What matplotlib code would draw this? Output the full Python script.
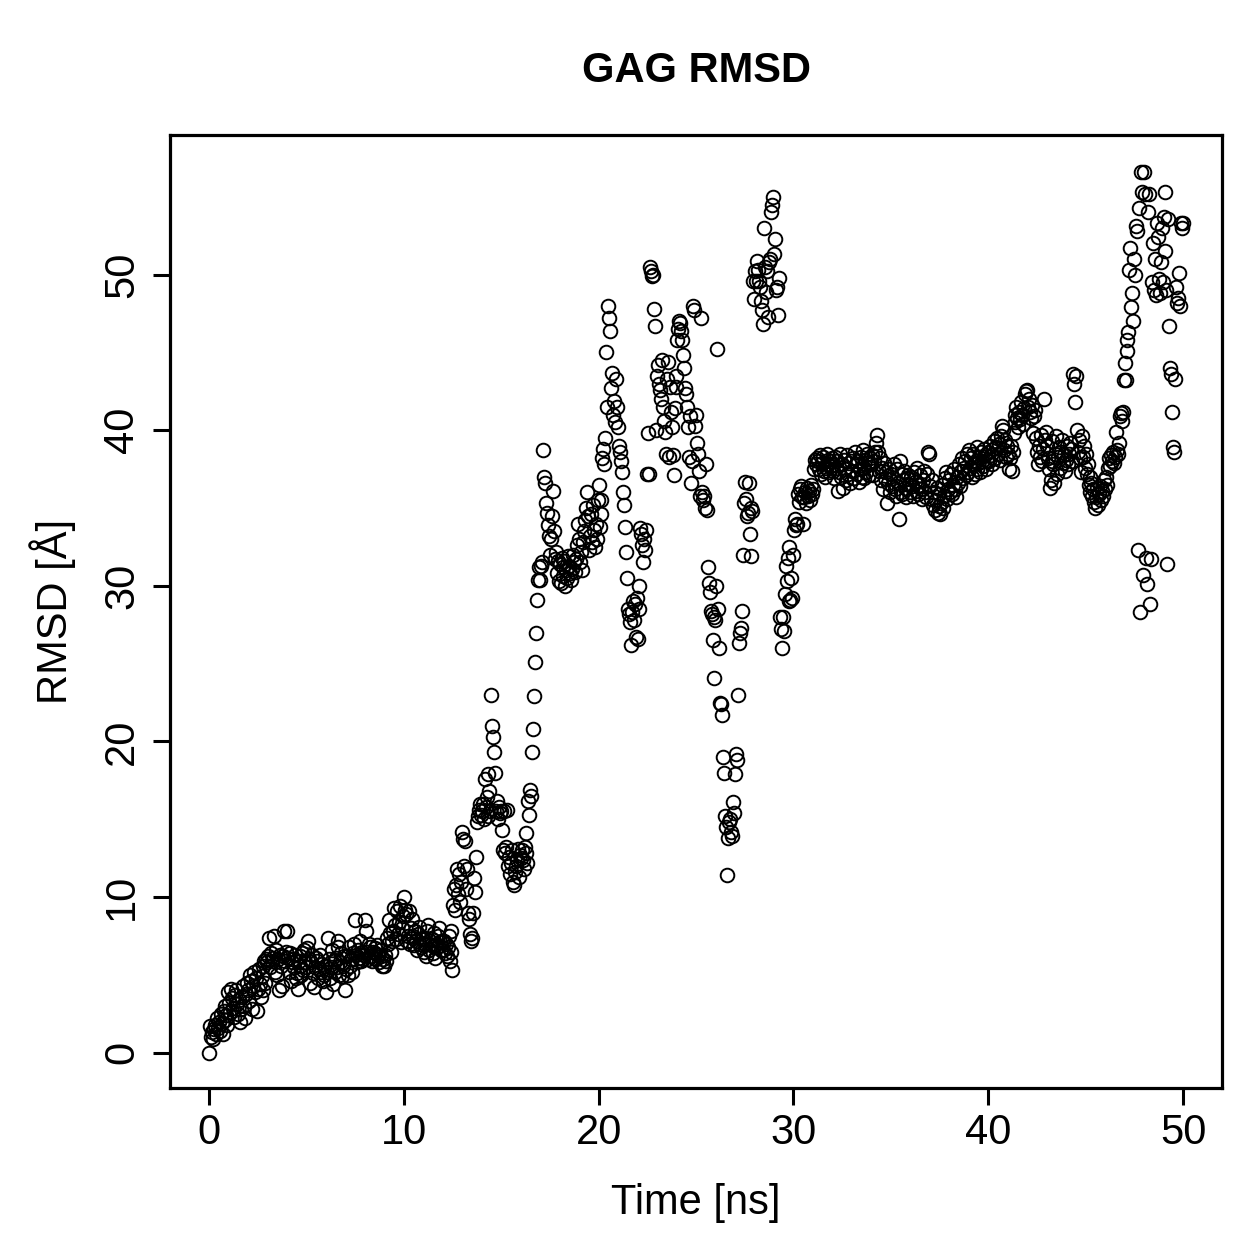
#!/usr/bin/env python
import matplotlib
matplotlib.use('Agg')
import matplotlib.pyplot as plt
import numpy as np

plt.rcParams['font.family'] = ['Liberation Sans', 'DejaVu Sans']

title = "GAG RMSD"
xlabel = "Time [ns]"
ylabel = "RMSD [Å]"
xticks = [0, 10, 20, 30, 40, 50]
yticks = [0, 10, 20, 30, 40, 50]

# RMSD, one row per ns (0.05 ns steps)
rmsd = [
	0.0, 1.7, 1.0, 1.3, 0.9, 1.5, 1.8, 1.2, 2.2, 1.6, 2.0, 1.4, 2.5, 1.9, 1.2, 2.7, 2.1, 3.0, 2.4, 1.8,
	3.9, 3.2, 2.6, 4.1, 3.5, 2.9, 2.3, 3.7, 4.0, 3.1, 2.5, 3.4, 2.0, 2.8, 3.6, 4.3, 3.0, 2.2, 3.8, 4.5,
	4.0, 3.3, 5.0, 4.6, 2.8, 4.3, 5.2, 3.9, 4.8, 2.7, 4.1, 5.4, 4.4, 3.6, 4.9, 4.0, 5.6, 5.9, 4.5, 6.0,
	5.8, 6.2, 7.4, 5.5, 6.4, 5.9, 6.1, 7.5, 5.2, 6.6, 5.0, 6.0, 4.0, 6.3, 5.6, 4.3, 6.2, 7.8, 5.9, 6.5,
	7.8, 6.1, 5.2, 6.4, 4.6, 5.8, 6.0, 5.5, 6.3, 4.8, 5.1, 4.1, 5.9, 6.2, 5.6, 5.0, 6.4, 5.3, 6.6, 5.8,
	5.5, 6.7, 7.2, 6.0, 4.5, 5.8, 6.3, 5.1, 4.2, 5.5, 6.1, 5.9, 4.8, 5.4, 6.3, 5.2, 5.7, 4.6, 5.0, 5.6,
	3.9, 5.2, 7.4, 6.0, 4.8, 5.5, 6.6, 4.4, 5.9, 5.2, 6.1, 5.5, 7.2, 6.8, 5.0, 5.8, 6.4, 4.9, 5.6, 6.2,
	4.0, 5.4, 6.2, 5.0, 6.8, 5.6, 6.0, 5.2, 6.4, 7.0, 8.5, 6.3, 5.8, 6.6, 6.1, 7.2, 5.9, 6.5, 6.0, 6.3,
	8.5, 7.8, 6.5, 6.0, 7.0, 6.8, 6.2, 5.9, 6.5, 6.1, 6.7, 6.4, 6.0, 6.9, 6.3, 5.8, 6.6, 6.2, 5.6, 6.0,
	5.6, 6.3, 5.9, 7.4, 7.0, 8.5, 7.7, 6.5, 7.2, 7.8, 9.3, 8.2, 7.3, 9.1, 7.6, 8.4, 9.4, 7.1, 8.0, 8.8,
	10.0, 9.2, 8.9, 7.2, 7.5, 9.1, 7.0, 8.0, 8.6, 7.5, 7.4, 6.9, 7.8, 7.2, 6.6, 7.6, 8.1, 7.0, 6.8, 7.3,
	7.4, 6.5, 7.0, 6.2, 7.8, 8.2, 6.6, 7.2, 6.9, 7.3, 6.4, 7.7, 6.1, 7.0, 6.8, 7.5, 8.0, 7.1, 6.6, 7.2,
	6.6, 7.2, 6.4, 7.0, 6.2, 6.8, 7.5, 5.9, 6.5, 7.8, 5.3, 9.5, 10.5, 9.2, 10.8, 11.8, 10.2, 11.5, 9.7, 11.0,
	14.2, 13.7, 12.0, 13.6, 10.5, 11.8, 9.0, 8.6, 7.6, 7.2, 7.4, 9.0, 11.2, 10.3, 12.6, 14.8, 15.2, 15.6, 16.0, 15.3,
	15.5, 16.0, 15.0, 17.6, 15.8, 16.4, 15.2, 17.9, 16.8, 15.5, 23.0, 21.0, 20.3, 19.3, 18.0, 15.5, 16.2, 15.0, 15.8, 15.4,
	15.5, 14.3, 13.0, 15.5, 12.8, 13.2, 15.6, 12.0, 12.6, 11.5, 12.2, 13.0, 11.0, 10.8, 11.6, 12.0, 12.4, 13.1, 11.3, 12.7,
	12.5, 13.0, 12.4, 11.8, 13.2, 12.8, 14.1, 12.2, 16.2, 15.3, 16.9, 16.5, 19.3, 20.8, 22.9, 25.1, 27.0, 29.1, 30.4, 31.2,
	30.4, 31.3, 31.5, 38.7, 37.0, 36.6, 35.3, 34.7, 33.9, 33.2, 32.0, 33.0, 34.5, 36.1, 33.5, 31.7, 32.2, 30.8, 31.6, 30.3,
	31.4, 30.2, 31.8, 30.6, 31.2, 31.6, 30.0, 31.0, 30.5, 31.9, 31.3, 30.8, 30.4, 31.1, 32.0, 31.5, 30.9, 31.7, 32.6, 34.0,
	33.0, 31.5, 32.2, 31.0, 32.8, 33.5, 34.2, 35.0, 36.0, 34.5, 32.3, 33.2, 34.6, 32.8, 35.2, 33.6, 32.5, 34.0, 33.0, 35.5,
	36.5, 33.8, 35.5, 34.6, 38.2, 38.8, 37.8, 39.5, 45.0, 41.5, 48.0, 47.2, 46.4, 42.7, 43.7, 41.0, 41.9, 40.5, 43.3, 41.5,
	40.2, 39.0, 38.6, 38.0, 37.3, 36.0, 35.2, 33.8, 32.2, 30.5, 28.5, 28.2, 27.7, 26.2, 28.3, 29.0, 27.8, 28.8, 26.7, 29.2,
	26.6, 28.5, 30.0, 33.7, 33.3, 32.6, 31.5, 33.0, 32.3, 33.6, 37.2, 39.8, 37.2, 50.5, 50.2, 49.9, 50.0, 47.8, 46.7, 40.0,
	43.5, 44.2, 43.0, 42.6, 42.0, 44.5, 41.5, 40.6, 39.9, 38.5, 43.3, 44.4, 38.3, 42.8, 41.2, 40.2, 38.4, 37.1, 41.4, 43.5,
	42.8, 45.8, 46.5, 47.0, 46.9, 46.4, 45.8, 44.8, 44.0, 42.7, 42.3, 41.5, 40.2, 38.3, 40.9, 36.6, 38.0, 48.0, 47.7, 40.3,
	41.0, 39.2, 38.5, 37.4, 35.8, 47.2, 36.0, 35.5, 35.8, 35.0, 37.8, 34.9, 31.2, 30.2, 29.6, 28.4, 28.2, 26.5, 24.1, 28.0,
	27.8, 30.0, 45.2, 28.5, 26.0, 22.5, 22.4, 21.7, 19.0, 18.0, 15.2, 14.5, 11.4, 13.8, 14.8, 15.0, 14.2, 13.9, 16.1, 15.4,
	17.9, 19.2, 18.8, 23.0, 26.3, 27.0, 27.3, 28.4, 32.0, 35.3, 36.7, 35.6, 34.5, 34.7, 36.6, 33.3, 31.9, 35.0, 34.8, 49.6,
	48.4, 50.2, 49.6, 50.9, 50.3, 49.6, 49.2, 48.3, 47.7, 46.8, 53.0, 50.5, 48.9, 50.2, 47.3, 50.8, 51.0, 54.0, 54.5, 55.0,
	51.3, 52.3, 49.0, 49.2, 47.4, 49.8, 28.0, 27.2, 26.0, 28.0, 27.1, 29.5, 31.3, 30.3, 31.8, 32.5, 29.0, 29.1, 30.5, 29.2,
	32.0, 33.6, 34.3, 33.9, 34.0, 35.9, 35.4, 36.2, 36.4, 35.7, 34.0, 35.7, 36.0, 35.3, 36.3, 35.8, 36.1, 35.5, 36.5, 35.9,
	36.2, 37.5, 38.1, 37.8, 38.2, 38.0, 37.5, 38.4, 37.2, 37.9, 38.3, 37.4, 37.0, 37.6, 38.5, 37.8, 38.1, 37.3, 38.0, 37.7,
	38.2, 37.4, 36.9, 38.3, 37.6, 38.0, 36.1, 37.3, 38.5, 37.0, 37.8, 36.3, 38.1, 37.5, 36.8, 38.4, 37.2, 37.9, 36.6, 38.0,
	37.4, 38.2, 36.9, 38.6, 37.8, 37.2, 38.0, 36.7, 37.5, 38.3, 37.0, 38.7, 37.6, 36.9, 38.1, 37.3, 38.5, 37.9, 37.1, 38.2,
	37.8, 38.4, 37.1, 38.0, 38.6, 39.2, 39.7, 38.6, 37.4, 38.2, 36.8, 37.6, 36.2, 37.9, 36.9, 37.3, 35.3, 36.6, 37.5, 36.0,
	37.2, 36.4, 36.9, 37.8, 36.2, 35.8, 37.5, 36.6, 34.3, 38.0, 36.0, 37.2, 35.9, 36.8, 37.4, 36.3, 35.7, 36.9, 37.1, 36.5,
	36.0, 37.0, 36.4, 35.8, 37.3, 36.7, 36.1, 37.6, 35.9, 36.5, 37.1, 36.2, 35.6, 36.8, 37.4, 36.0, 35.7, 37.2, 38.6, 38.5,
	36.4, 35.6, 36.8, 35.2, 36.0, 34.9, 35.5, 36.3, 34.7, 35.1, 35.9, 34.6, 35.3, 36.5, 35.0, 35.8, 36.9, 37.3, 35.6, 36.2,
	36.8, 36.0, 37.2, 35.9, 36.5, 37.5, 36.2, 35.7, 37.0, 36.6, 37.8, 36.4, 37.4, 38.2, 36.9, 37.6, 38.0, 37.1, 38.5, 37.3,
	38.7, 37.6, 38.2, 37.0, 38.5, 37.8, 37.2, 38.0, 37.5, 38.9, 37.9, 38.3, 37.3, 38.6, 38.0, 37.7, 38.8, 38.4, 37.5, 38.1,
	38.6, 38.0, 39.0, 38.4, 37.8, 38.8, 39.3, 38.2, 38.9, 39.5, 38.5, 39.1, 38.1, 39.6, 40.3, 40.0, 38.7, 39.4, 38.3, 39.0,
	38.5, 37.5, 38.2, 39.0, 37.4, 38.6, 39.8, 41.0, 40.5, 41.5, 40.8, 40.2, 41.2, 40.7, 41.8, 41.0, 40.4, 41.4, 42.3, 42.5,
	42.6, 41.5, 42.0, 41.2, 40.8, 41.6, 39.8, 40.9, 41.3, 39.5, 38.6, 37.8, 39.0, 38.3, 39.7, 38.0, 38.8, 42.0, 39.4, 39.9,
	39.0, 38.2, 37.5, 36.3, 36.8, 38.0, 39.3, 37.8, 36.6, 38.5, 39.6, 37.2, 38.3, 38.9, 37.6, 38.6, 39.4, 37.9, 38.4, 37.4,
	38.1, 39.0, 37.8, 38.5, 39.2, 38.8, 38.0, 43.6, 43.0, 41.8, 43.5, 40.0, 38.6, 39.4, 38.2, 37.3, 39.6, 38.3, 39.0, 37.6,
	38.5, 37.2, 37.8, 36.5, 37.0, 36.0, 36.6, 35.8, 36.2, 35.4, 35.0, 35.7, 36.3, 35.2, 35.9, 36.4, 35.5, 36.1, 35.8, 36.8,
	36.2, 37.0, 36.5, 37.6, 38.2, 37.7, 38.4, 38.0, 38.6, 37.9, 38.3, 39.9, 38.7, 38.5, 39.2, 40.9, 41.1, 40.6, 41.2, 43.2,
	44.3, 43.2, 45.1, 45.8, 46.3, 50.3, 51.7, 47.9, 48.8, 47.0, 51.0, 50.0, 53.1, 52.8, 32.3, 54.3, 28.3, 56.6, 55.3, 30.7,
	56.6, 55.2, 31.8, 30.1, 54.0, 55.2, 28.8, 31.7, 49.5, 52.0, 49.0, 51.0, 48.7, 53.3, 52.4, 49.7, 48.8, 50.8, 53.0, 49.5,
	53.7, 51.5, 55.3, 49.0, 31.4, 53.6, 46.7, 44.0, 43.6, 41.2, 38.9, 38.6, 43.3, 49.2, 48.2, 48.5, 50.1, 48.0, 53.3, 53.0,
	53.3,
]

time = np.linspace(0, 50, len(rmsd))

fig = plt.figure(figsize=(12.59, 12.59), dpi=100)
ax = fig.add_axes([0.135, 0.1358, 0.8356, 0.757])

ax.plot(time, rmsd, 'o', mfc='none', mec='black', ms=9.8, mew=1.4)

ax.set_xlim(-2, 52)
ax.set_ylim(-2.27, 58.97)
ax.set_xticks(xticks)
ax.set_yticks(yticks)
ax.tick_params(axis='both', direction='out', length=12, width=2.2, labelsize=30)
ax.tick_params(axis='x', pad=6)
ax.tick_params(axis='y', pad=8)
plt.setp(ax.get_yticklabels(), rotation=90, va='center')

for s in ax.spines.values():
	s.set_linewidth(2.3)

ax.set_xlabel(xlabel, fontsize=30, va='center')
ax.set_ylabel(ylabel, fontsize=30, va='center')
ax.xaxis.set_label_coords(0.5, -0.1207)
ax.yaxis.set_label_coords(-0.112, 0.5)
fig.text(0.553, 0.944, title, fontsize=30, fontweight='bold', ha='center', va='center')

plt.savefig("out.png", dpi=100)
